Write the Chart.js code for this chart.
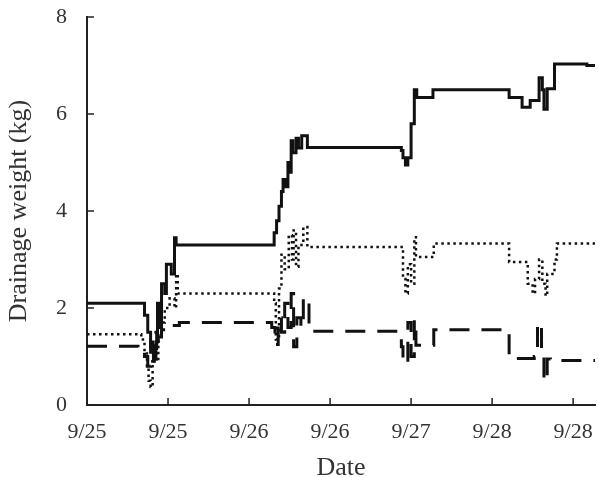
<!DOCTYPE html>
<html>
<head>
<meta charset="utf-8">
<script src="https://cdn.jsdelivr.net/npm/chart.js@4.4.1/dist/chart.umd.min.js"></script>
<style>
  html, body { margin: 0; padding: 0; background: #fff; }
  #wrap { width: 599px; height: 477px; }
</style>
</head>
<body>
<div id="wrap"><canvas id="drainage-chart" width="599" height="477"></canvas></div>
<script>
"use strict";

// x is in tick units (one unit per date tick)
const xTickLabels = ['9/25', '9/25', '9/26', '9/26', '9/27', '9/28', '9/28'];
const yTicks = [0, 2, 4, 6, 8];

const solidX = [0, 0.71, 0.75, 0.785, 0.82, 0.85, 0.87, 0.90, 0.92, 0.96, 0.98, 1.04, 1.08, 1.10,
  2.31, 2.34, 2.37, 2.40, 2.42, 2.45, 2.48, 2.50, 2.52, 2.54, 2.58, 2.61, 2.65, 2.72,
  3.88, 3.90, 3.93, 3.96, 4.00, 4.04, 4.07, 4.27, 5.21, 5.37, 5.47, 5.58, 5.62, 5.64, 5.68, 5.77, 6.17, 6.27];
const solidY = [2.1, 1.85, 1.5, 1.2, 0.95, 1.3, 2.1, 1.6, 2.5, 2.3, 2.9, 2.7, 3.45, 3.3,
  3.55, 3.8, 4.1, 4.4, 4.65, 4.5, 5.0, 4.8, 5.45, 5.2, 5.5, 5.3, 5.55, 5.31,
  5.25, 5.1, 4.95, 5.1, 5.8, 6.5, 6.34, 6.5, 6.34, 6.14, 6.28, 6.75, 6.5, 6.1, 6.52, 7.03, 7.0, 7.0];

const dottedX = [0, 0.67, 0.71, 0.74, 0.76, 0.785, 0.81, 0.83, 0.86, 0.88, 0.92, 0.96, 1.02, 1.08, 1.10, 1.12,
  2.31, 2.33, 2.37, 2.40, 2.44, 2.49, 2.53, 2.55, 2.58, 2.61, 2.67, 2.72,
  3.90, 3.93, 3.96, 4.00, 4.04, 4.06, 4.28, 5.21, 5.44, 5.50, 5.53, 5.58, 5.62, 5.66, 5.68, 5.77, 5.80, 6.27];
const dottedY = [1.46, 1.35, 1.1, 0.8, 0.5, 0.37, 0.9, 1.2, 0.9, 1.5, 1.7, 2.0, 2.2, 2.0, 2.7, 2.3,
  2.1, 1.35, 2.4, 3.1, 2.8, 3.5, 3.0, 3.6, 2.85, 3.3, 3.67, 3.26,
  2.6, 2.3, 2.9, 2.5, 3.46, 3.05, 3.33, 2.95, 2.5, 2.3, 2.6, 3.0, 2.5, 2.25, 2.7, 3.0, 3.33, 3.33];

const dashedX = [0, 0.63, 0.71, 0.75, 0.785, 0.81, 0.83, 0.86, 0.88, 0.92, 1.02, 1.14,
  2.28, 2.32, 2.36, 2.40, 2.44, 2.48, 2.52, 2.55, 2.59, 2.64, 2.67, 2.74,
  3.88, 3.90, 3.96, 4.00, 4.04, 4.06, 4.28, 5.21, 5.52, 5.56, 5.61, 5.64, 5.68, 5.72, 6.27];
const dashedY = [1.21, 1.13, 1.0, 0.8, 1.3, 0.9, 1.5, 1.1, 1.4, 1.55, 1.64, 1.7,
  1.6, 1.25, 1.8, 1.5, 2.1, 1.6, 2.3, 1.2, 1.8, 1.6, 2.2, 1.52,
  1.2, 0.86, 1.7, 1.0, 1.75, 1.23, 1.55, 0.96, 1.0, 1.68, 1.0, 0.5, 0.95, 0.92, 0.92];

const toPoints = (xs, ys) => xs.map((x, i) => ({ x, y: ys[i] }));

const lineColor = '#111';
const textColor = '#333';
const fontFamily = '"Liberation Serif", "DejaVu Serif", serif';

const makeDataset = (label, xs, ys, width, dash) => ({
  label,
  data: toPoints(xs, ys),
  borderColor: lineColor,
  borderWidth: width,
  borderDash: dash,
  stepped: true,
  pointRadius: 0,
  fill: false,
});

// tick marks drawn on the inside of the axes
const innerTicks = {
  id: 'innerTicks',
  afterDraw(chart) {
    const { ctx, chartArea, scales } = chart;
    ctx.save();
    ctx.strokeStyle = '#222';
    ctx.lineWidth = 1.5;
    ctx.beginPath();
    scales.y.ticks.forEach((tick) => {
      const py = scales.y.getPixelForValue(tick.value);
      ctx.moveTo(chartArea.left, py);
      ctx.lineTo(chartArea.left + 7, py);
    });
    scales.x.ticks.forEach((tick) => {
      const px = scales.x.getPixelForValue(tick.value);
      ctx.moveTo(px, chartArea.bottom);
      ctx.lineTo(px, chartArea.bottom - 7);
    });
    ctx.stroke();
    ctx.restore();
  },
};

new Chart(document.getElementById('drainage-chart'), {
  type: 'line',
  data: {
    datasets: [
      makeDataset('solid', solidX, solidY, 3, []),
      makeDataset('dotted', dottedX, dottedY, 2.5, [2.5, 3.5]),
      makeDataset('dashed', dashedX, dashedY, 3, [20, 12]),
    ],
  },
  options: {
    responsive: false,
    animation: false,
    layout: {
      padding: { top: 17, right: 4, left: 0, bottom: 0 },
    },
    plugins: {
      legend: { display: false },
      tooltip: { enabled: false },
    },
    scales: {
      x: {
        type: 'linear',
        min: 0,
        max: 6.27,
        afterBuildTicks: (scale) => {
          scale.ticks = xTickLabels.map((_, i) => ({ value: i }));
        },
        afterFit: (scale) => {
          scale.height = 72;
          scale.paddingLeft = 0;
          scale.paddingRight = 0;
        },
        grid: { display: false, drawTicks: false },
        border: { color: '#222', width: 2 },
        ticks: {
          color: textColor,
          padding: 14,
          maxRotation: 0,
          font: { family: fontFamily, size: 22 },
          callback: (value) => xTickLabels[value] ?? '',
        },
        title: {
          display: true,
          text: 'Date',
          color: textColor,
          padding: { top: 0, bottom: 0 },
          font: { family: fontFamily, size: 26, lineHeight: 0.65 },
        },
      },
      y: {
        type: 'linear',
        min: 0,
        max: 8,
        afterBuildTicks: (scale) => {
          scale.ticks = yTicks.map((v) => ({ value: v }));
        },
        afterFit: (scale) => {
          scale.width = 87;
          scale.paddingTop = 0;
          scale.paddingBottom = 0;
        },
        grid: { display: false, drawTicks: false },
        border: { color: '#222', width: 2 },
        ticks: {
          color: textColor,
          padding: 20,
          font: { family: fontFamily, size: 22 },
        },
        title: {
          display: true,
          text: 'Drainage weight (kg)',
          color: textColor,
          padding: { top: 4, bottom: 0 },
          font: { family: fontFamily, size: 26 },
        },
      },
    },
  },
  plugins: [innerTicks],
});
</script>
</body>
</html>
